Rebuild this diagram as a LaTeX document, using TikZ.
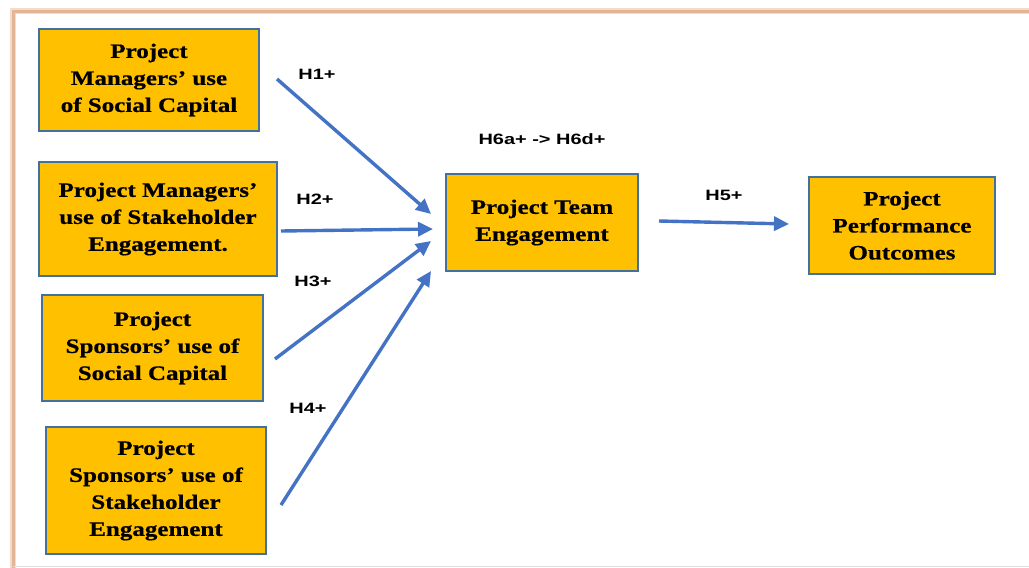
\documentclass[tikz,border=0pt]{standalone}
\usepackage{fontspec}
\setmainfont{Liberation Serif}[FakeStretch=1.22, FakeBold=0.6]
\newfontfamily\labelfont{Liberation Sans}[FakeStretch=1.33]
\usetikzlibrary{arrows.meta}
\definecolor{boxfill}{HTML}{FFC000}
\definecolor{boxline}{HTML}{41719C}
\definecolor{arrowblue}{HTML}{4472C4}
\definecolor{frametan}{HTML}{E2B596}
\definecolor{frameshade}{HTML}{F3DCCB}
\tikzset{
  x=1pt, y=-1pt,
  concept/.style={draw=boxline, line width=1.3pt, fill=boxfill, align=center,
    inner sep=0pt, font=\bfseries\fontsize{20.5}{27}\selectfont},
  hyp/.style={font=\labelfont\bfseries\fontsize{15}{17}\selectfont, inner sep=0pt},
  link/.style={draw=arrowblue, line width=3.4pt,
    -{Triangle[length=15pt, width=14pt]}, shorten >=0pt},
}
\begin{document}
\begin{tikzpicture}
\useasboundingbox (0,0) rectangle (1029,568);
% page frame
\fill[white] (13,11) rectangle (1029,566);
\draw[frameshade, line width=6pt] (13,568) -- (13,11) -- (1029,11);
\draw[frametan, line width=3pt] (13,568) -- (13,11) -- (1029,11);
\draw[gray!25, line width=1.5pt] (13,566.5) -- (1029,566.5);

% concept boxes
\node[concept, minimum width=220pt, minimum height=102pt] (pmsc) at (149,80)
  {Project\\Managers’ use\\of Social Capital};
\node[concept, minimum width=238pt, minimum height=114pt] (pmse) at (158,219)
  {Project Managers’\\use of Stakeholder\\Engagement.};
\node[concept, minimum width=221pt, minimum height=106pt] (pssc) at (152.5,348)
  {Project\\Sponsors’ use of\\Social Capital};
\node[concept, minimum width=220pt, minimum height=127pt] (psse) at (156,490.5)
  {Project\\Sponsors’ use of\\Stakeholder\\Engagement};
\node[concept, minimum width=192pt, minimum height=97pt] (pte) at (542,222.5)
  {Project Team\\Engagement};
\node[concept, minimum width=186pt, minimum height=97pt] (ppo) at (902,225.5)
  {Project\\Performance\\Outcomes};

% arrow end points
\coordinate (s1) at (277,79);   \coordinate (t1) at (431,214);
\coordinate (s2) at (281,231);  \coordinate (t2) at (433,229);
\coordinate (s3) at (275,359);  \coordinate (t3) at (431,241);
\coordinate (s4) at (281,505);  \coordinate (t4) at (431,271);
\coordinate (s5) at (659,221);  \coordinate (t5) at (789,224);

\draw[link] (s1) -- (t1);
\draw[link] (s2) -- (t2);
\draw[link] (s3) -- (t3);
\draw[link] (s4) -- (t4);
\draw[link] (s5) -- (t5);

% hypothesis labels
\node[hyp] (h1) at (317,74) {H1+};
\node[hyp] (h2) at (315,199) {H2+};
\node[hyp] (h3) at (313,281) {H3+};
\node[hyp] (h4) at (308,408) {H4+};
\node[hyp] (h6) at (542,139) {H6a+ -> H6d+};
\node[hyp] (h5) at (724,195) {H5+};
\end{tikzpicture}
\end{document}
